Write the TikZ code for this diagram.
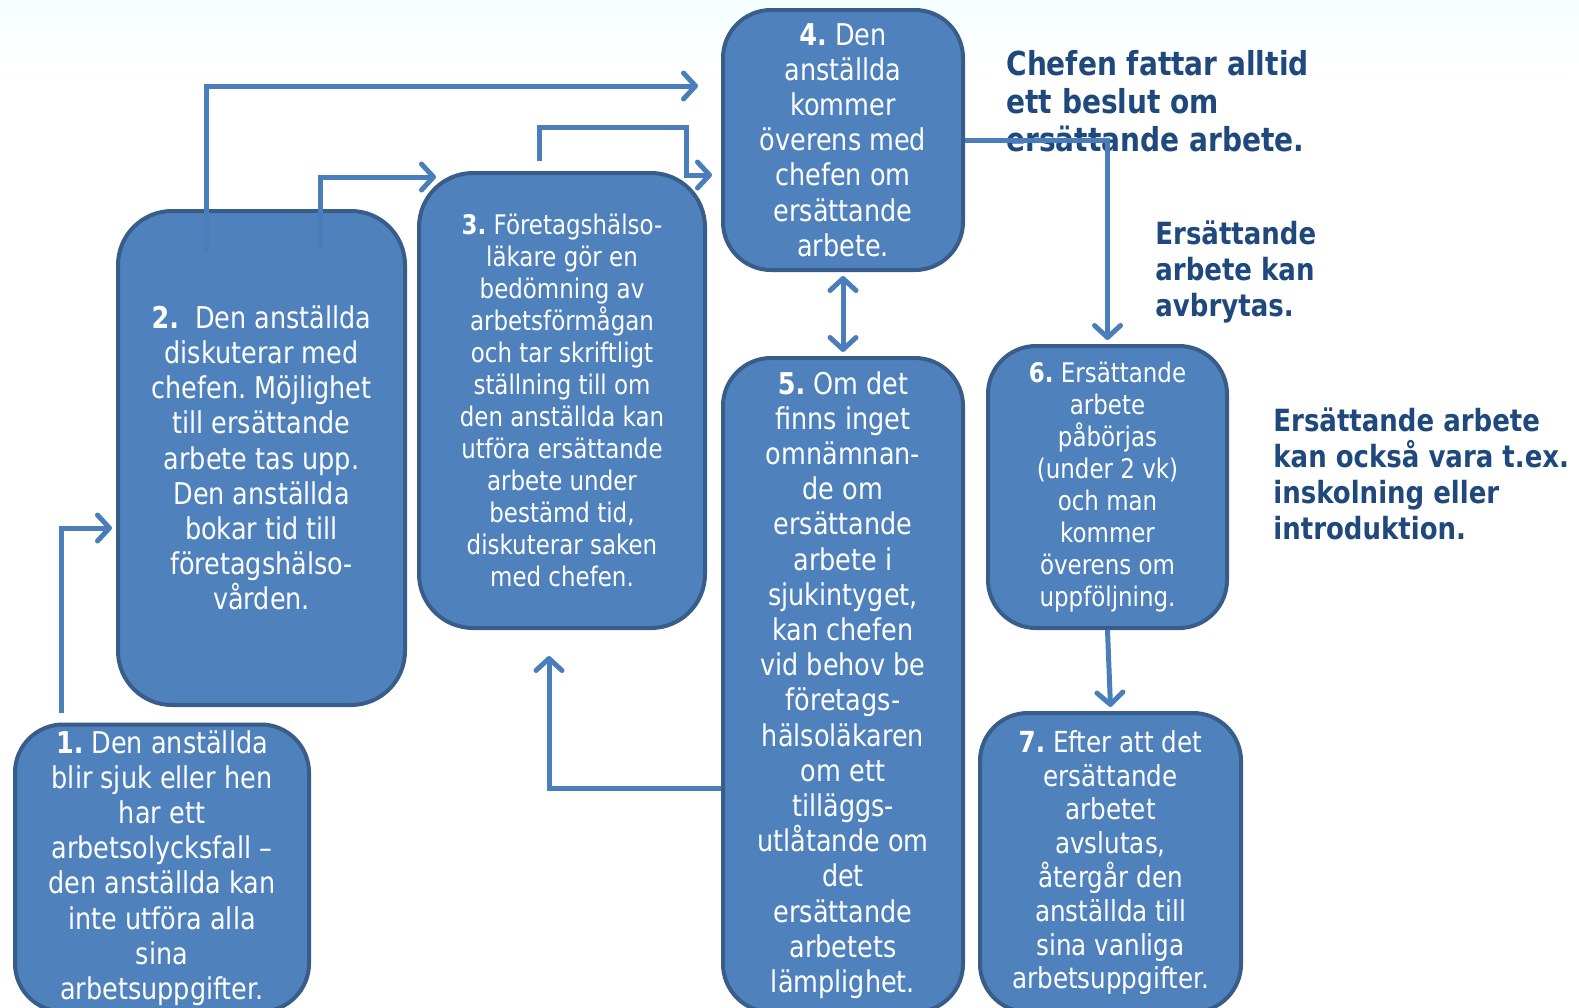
\documentclass[tikz,border=0pt]{standalone}
\usepackage{fontspec}
\setmainfont{DejaVu Sans}[FakeStretch=0.85]
\usepackage{xcolor}
\usetikzlibrary{arrows.meta,positioning,calc}
\frenchspacing

\definecolor{boxfill}{HTML}{4F81BD}
\definecolor{boxline}{HTML}{385D8A}
\definecolor{arrowblue}{HTML}{4A7EBB}
\definecolor{notenavy}{HTML}{1F497D}

\begin{document}
\begin{tikzpicture}[
  x=0.5pt, y=-0.5pt,
  stepbox/.style={rectangle, draw=boxline, fill=boxfill, line width=2pt,
                  rounded corners=24pt, inner sep=0pt, align=center,
                  text=white, font=\fontsize{15}{17.6}\selectfont},
  smallbox/.style={stepbox, font=\fontsize{13.5}{16}\selectfont},
  note/.style={anchor=north west, inner sep=0pt, align=left, text=notenavy,
               font=\bfseries\fontsize{15.3}{18}\selectfont},
  arr/.style={-{Straight Barb[length=6pt,width=13pt,round]}, line width=2.5pt,
              draw=arrowblue},
  both/.style={{Straight Barb[length=6pt,width=13pt,round]}-{Straight Barb[length=6pt,width=13pt,round]},
               line width=2.5pt, draw=arrowblue}
]
  \useasboundingbox (0,0) rectangle (1579,1007);
  \clip (0,0) rectangle (1579,1007);
  \fill[white] (0,0) rectangle (1579,1007);
  \shade[top color=blue!6!cyan!4, bottom color=white] (0,0) rectangle (1579,70);

  % steps
  \node[stepbox, minimum width=147pt, minimum height=143.5pt] (s1) at (162,868)
    {\textbf{1.} Den anställda\\ blir sjuk eller hen\\ har ett\\ arbetsolycksfall –\\
     den anställda kan\\ inte utföra alla\\ sina\\ arbetsuppgifter.};
  \node[stepbox, minimum width=143.5pt, minimum height=247pt, rounded corners=27pt] (s2) at (261.5,458)
    {\textbf{2.}\ \ Den anställda\\ diskuterar med\\ chefen. Möjlighet\\ till ersättande\\
     arbete tas upp.\\ Den anställda\\ bokar tid till\\ företagshälso-\\ vården.};
  \node[smallbox, minimum width=143pt, minimum height=227.5pt, rounded corners=27pt] (s3) at (562,400.5)
    {\textbf{3.} Företagshälso-\\ läkare gör en\\ bedömning av\\ arbetsförmågan\\
     och tar skriftligt\\ ställning till om\\ den anställda kan\\ utföra ersättande\\
     arbete under\\ bestämd tid,\\ diskuterar saken\\ med chefen.};
  \node[stepbox, minimum width=120pt, minimum height=130pt] (s4) at (843,140)
    {\textbf{4.} Den\\ anställda\\ kommer\\ överens med\\ chefen om\\ ersättande\\ arbete.};
  \node[stepbox, minimum width=120pt, minimum height=327pt] (s5) at (843,685)
    {\textbf{5.} Om det\\ finns inget\\ omnämnan-\\ de om\\ ersättande\\ arbete i\\
     sjukintyget,\\ kan chefen\\ vid behov be\\ företags-\\ hälsoläkaren\\ om ett\\
     tilläggs-\\ utlåtande om\\ det\\ ersättande\\ arbetets\\ lämplighet.};
  \node[smallbox, minimum width=119.5pt, minimum height=141pt] (s6) at (1107.5,487)
    {\textbf{6.} Ersättande\\ arbete\\ påbörjas\\ (under 2 vk)\\ och man\\ kommer\\
     överens om\\ uppföljning.};
  \node[stepbox, minimum width=130.5pt, minimum height=149.5pt,
        font=\fontsize{14.5}{16.9}\selectfont] (s7) at (1110.5,862.5)
    {\textbf{7.} Efter att det\\ ersättande\\ arbetet\\ avslutas,\\ återgår den\\
     anställda till\\ sina vanliga\\ arbetsuppgifter.};

  % notes
  \node[note, font=\bfseries\fontsize{16.5}{19}\selectfont] (n1) at (1006,50)
    {Chefen fattar alltid\\ ett beslut om\\ ersättande arbete.};
  \node[note] (n2) at (1155,220) {Ersättande\\ arbete kan\\ avbrytas.};
  \node[note] (n3) at (1273,407)
    {Ersättande arbete\\ kan också vara t.ex.\\ inskolning eller\\ introduktion.};

  % arrow ends
  \coordinate (e4a) at (698,86);
  \coordinate (e3a) at (436,177);
  \coordinate (e4b) at (712,175);
  \coordinate (e3b) at (549,656);
  \coordinate (o3) at (539,161);
  \coordinate (o1) at (61,713);

  % connectors
  \draw[arr] (o1) |- ([xshift=-2pt]s2.west |- 0,528);
  \draw[arr] ($(s2.north -| 206,0)+(0,45)$) |- (e4a);
  \draw[arr] ($(s2.north -| 320,0)+(0,40)$) |- (e3a);
  \draw[arr] (o3) |- (686,127) |- (e4b);
  \draw[both] ([yshift=-2pt]s4.south) -- ([yshift=2pt]s5.north);
  \draw[arr] (s5.west |- 0,788) -| (e3b);
  \draw[arr] (s4.east) -| ([yshift=2pt]s6.north);
  \draw[arr] (s6.south) -- ([yshift=2pt]s7.north);
\end{tikzpicture}
\end{document}
